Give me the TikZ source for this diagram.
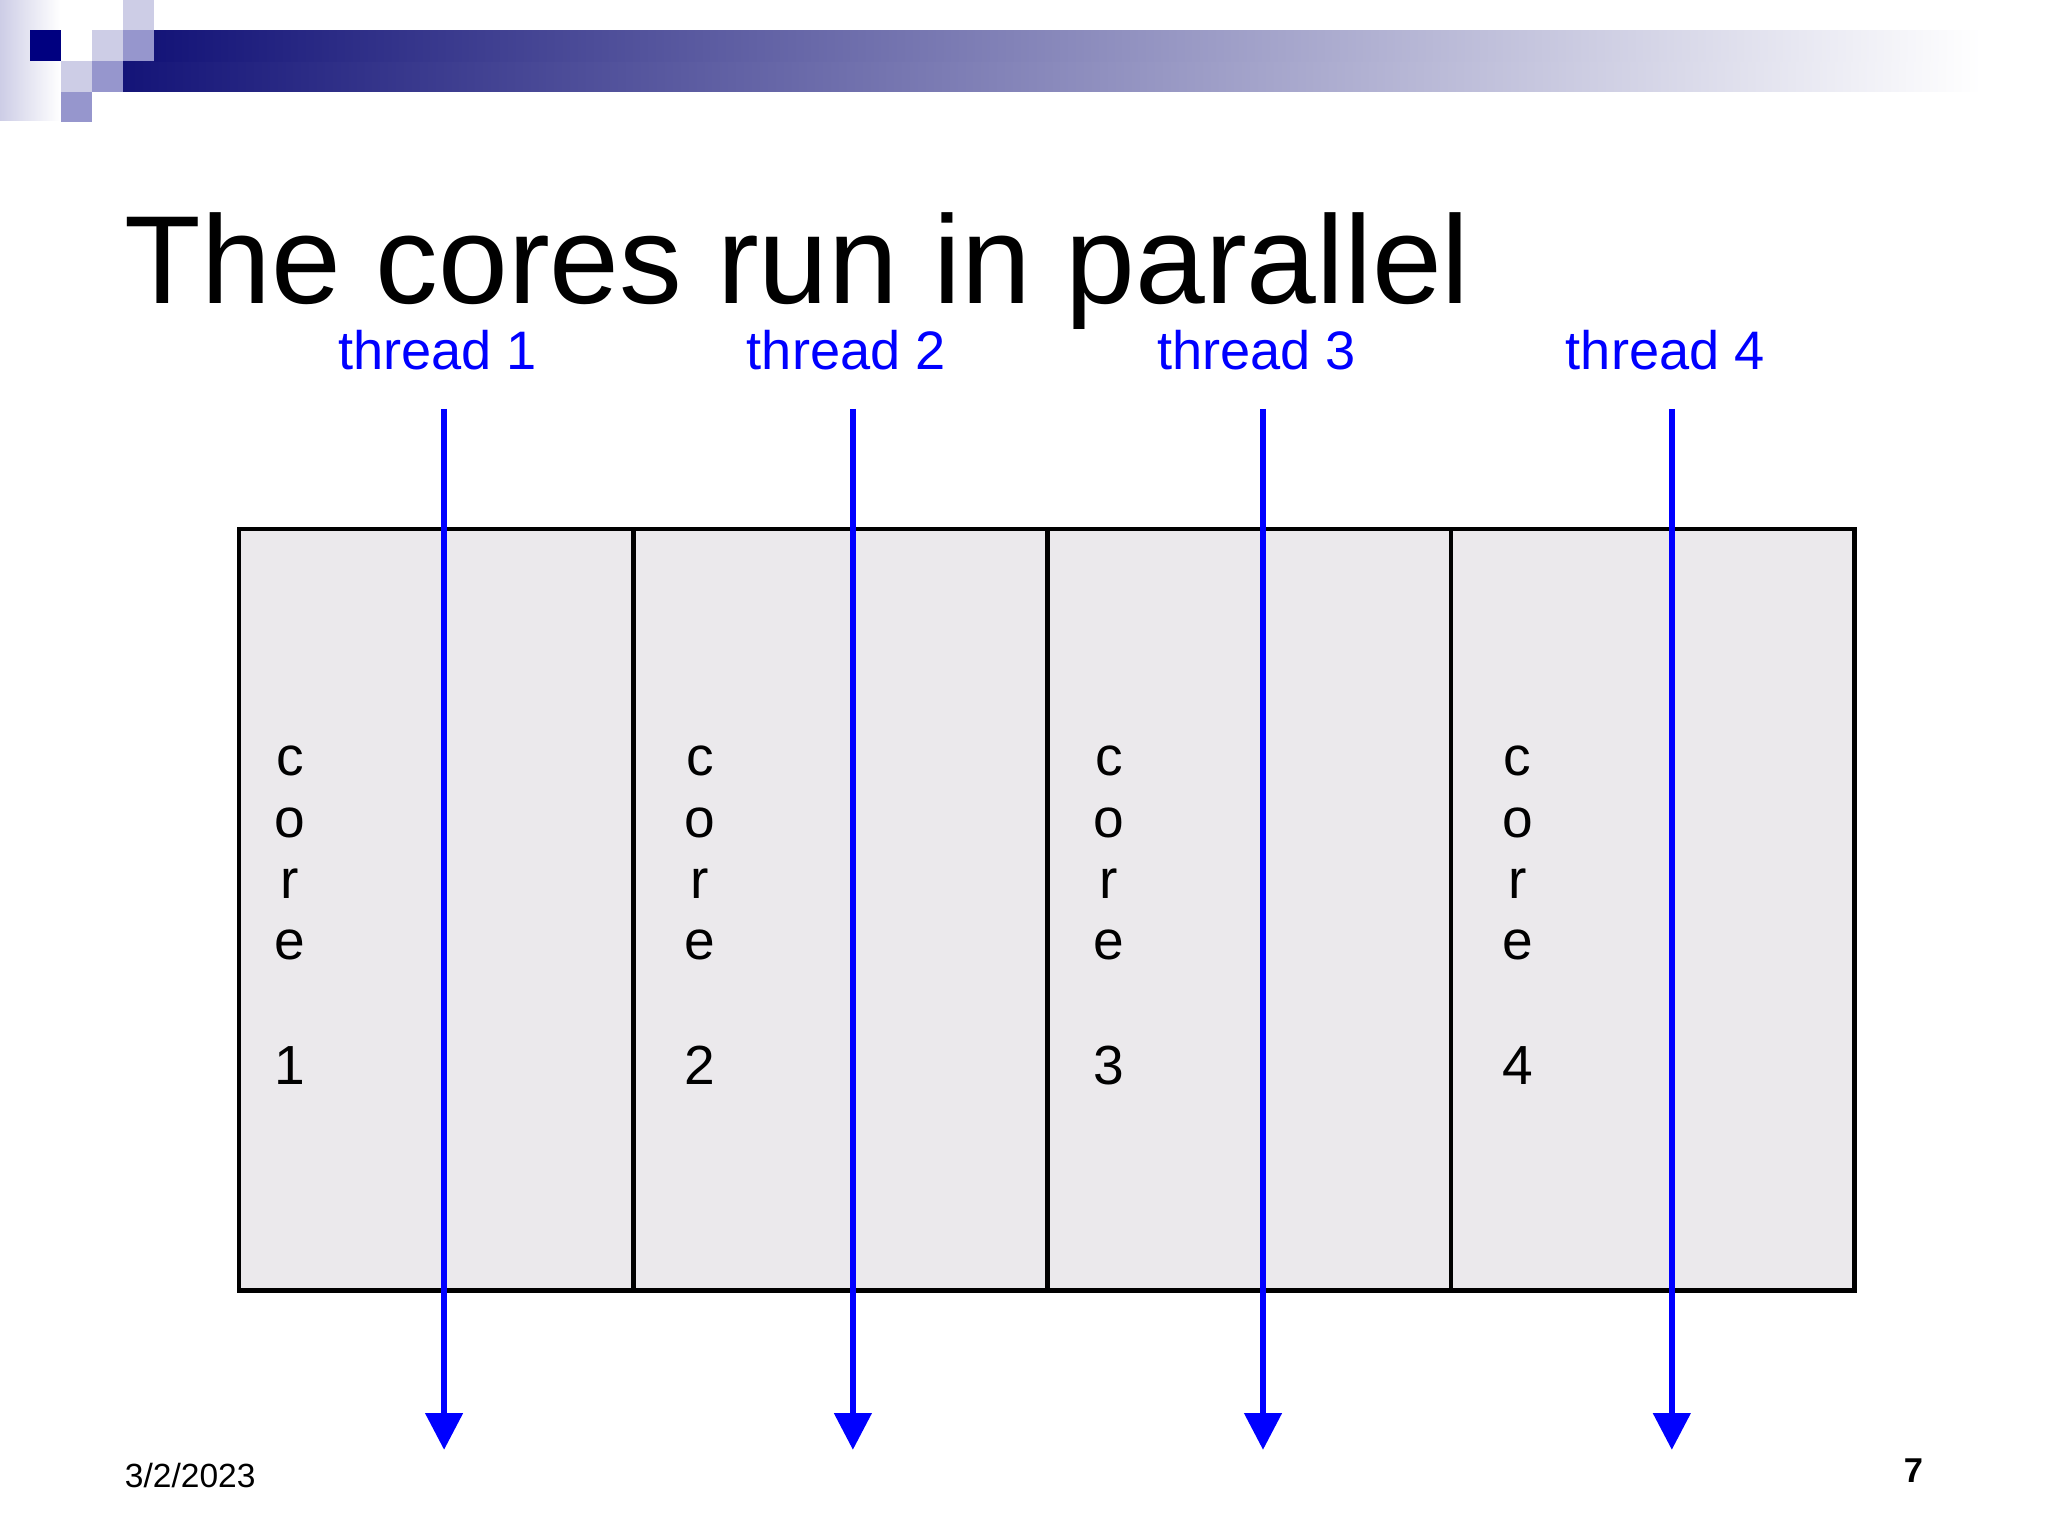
\documentclass[tikz,border=0pt]{standalone}
\usepackage{fontspec}
\setmainfont{Liberation Sans}
\usetikzlibrary{arrows.meta}
\definecolor{navy}{RGB}{20,20,120}
\definecolor{lsq}{RGB}{205,205,230}
\definecolor{msq}{RGB}{150,150,205}
\definecolor{dsq}{RGB}{0,0,128}
\definecolor{boxfill}{RGB}{235,233,236}
\definecolor{tblue}{RGB}{0,0,255}
\tikzset{
  thr/.style={draw=tblue, line width=1.2pt, -{Triangle[width=8pt,length=8pt]}},
  tlabel/.style={text=tblue, font=\fontsize{11.8}{14}\selectfont, anchor=base},
  clabel/.style={font=\fontsize{12}{13}\selectfont, anchor=base}
}
\begin{document}
\begin{tikzpicture}[x=0.01cm,y=-0.01cm]
\useasboundingbox (0,0) rectangle (1568,1176);
\fill[white] (0,0) rectangle (1568,1176);
% decoration
\begin{scope}[scale=0.766]
\shade[left color=lsq, right color=white] (0,0) rectangle (60,120);
\shade[left color=navy, right color=white] (123,61) rectangle (1980,91);
\shade[left color=navy, right color=white] (154,30) rectangle (1980,61);
\fill[dsq] (30,30) rectangle (61,61);
\fill[lsq] (123,0) rectangle (154,30);
\fill[lsq] (92,30) rectangle (123,61);
\fill[msq] (123,30) rectangle (154,61);
\fill[lsq] (61,61) rectangle (92,92);
\fill[msq] (92,61) rectangle (123,92);
\fill[msq] (61,92) rectangle (92,122);
\end{scope}
% title
\node[anchor=base west, inner sep=0, font=\fontsize{27.3}{30}\selectfont] (title) at (95,232) {The cores run in parallel};
% box
\draw[fill=boxfill, line width=1pt] (183,405) rectangle (1420,988);
\foreach \x in {485,802,1111} \draw[line width=1pt] (\x,405) -- (\x,988);
% core labels
\foreach \x/\n in {222/1,536/2,849/3,1162/4}{
  \node[clabel] at (\x,594) {c};
  \node[clabel] at (\x,641) {o};
  \node[clabel] at (\x,688) {r};
  \node[clabel] at (\x,735) {e};
  \node[clabel] at (\x,830) {\n};
}
% threads
\foreach \x/\n in {340/1,653/2,967/3,1280/4}{
  \node[tlabel] (t\n) at (\x-5,283) {thread \n};
  \coordinate (s\n) at (\x,313);
  \coordinate (e\n) at (\x,1110);
  \draw[thr] (s\n) -- (e\n);
}
\node[anchor=base west, inner sep=0, font=\fontsize{7.3}{8}\selectfont] (date) at (95,1139) {3/2/2023};
\node[anchor=base, inner sep=0, font=\bfseries\fontsize{7.5}{8}\selectfont] (pg) at (1465,1135) {7};
\end{tikzpicture}
\end{document}
